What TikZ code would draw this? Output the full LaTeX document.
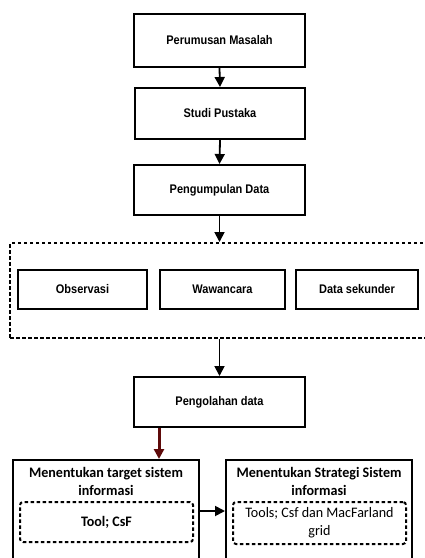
\documentclass[tikz,border=0pt]{standalone}
\usepackage{fontspec}
\usetikzlibrary{arrows.meta}
\newfontfamily\topfont[FakeStretch=0.88,BoldFont={Liberation Sans Bold}]{Liberation Sans}
\newfontfamily\calfont[FakeStretch=0.97]{Carlito}
\definecolor{darkred}{HTML}{5E0A0A}
\begin{document}
\begin{tikzpicture}[x=1pt,y=-1pt,
  box/.style={draw,line width=2pt,minimum width=#1,inner sep=0pt,
    font=\topfont\bfseries\fontsize{12.5}{14}\selectfont},
  bigbox/.style={draw,line width=2pt,minimum width=186pt,minimum height=110pt,inner sep=0pt},
  dbox/.style={draw,line width=2pt,dash pattern=on 3.5pt off 2.5pt,inner sep=0pt},
  inbox/.style={draw,line width=2pt,dash pattern=on 3.5pt off 2.5pt,rounded corners=3pt,
    minimum width=173pt,inner sep=0pt,align=center,font=\calfont\fontsize{14.5}{18}\selectfont},
  ttl/.style={align=center,inner sep=0pt,font=\calfont\bfseries\fontsize{14.5}{18}\selectfont},
  arr/.style={line width=1.8pt,-{Triangle[length=10pt,width=10pt]}},
  redarr/.style={line width=3pt,draw=darkred,-{Triangle[length=10pt,width=10pt]},color=darkred}]
\useasboundingbox (0,0) rectangle (425,558);
\fill[white] (0,0) rectangle (425,558);
\node[box=171pt,minimum height=53pt] (b1) at (219.5,40.5) {Perumusan Masalah};
\node[box=170pt,minimum height=51pt] (b2) at (220,113.5) {Studi Pustaka};
\node[box=171pt,minimum height=50pt] (b3) at (219.5,190) {Pengumpulan Data};
\node[dbox,minimum width=420pt,minimum height=95pt] (grp) at (220,290.5) {};
\node[box=129pt,minimum height=39pt] (obs) at (82.5,289.5) {Observasi};
\node[box=125pt,minimum height=39pt] (waw) at (222.5,289.5) {Wawancara};
\node[box=122pt,minimum height=39pt] (sek) at (357,289.5) {Data sekunder};
\node[box=171pt,minimum height=50pt] (olah) at (219.5,402) {Pengolahan data};
\node[bigbox] (lb) at (106,515) {};
\node[bigbox] (rb) at (319,515) {};
\node[ttl] (lt) at (106,481) {Menentukan target sistem\\informasi};
\node[ttl] (rt) at (319,481) {Menentukan Strategi Sistem\\informasi};
\node[inbox,minimum height=40pt,font=\calfont\bfseries\fontsize{14.5}{18}\selectfont] (li) at (106.5,522) {Tool; CsF};
\node[inbox,minimum height=42pt] (ri) at (319.5,523) {Tools; Csf dan MacFarland\\grid};
\coordinate (redx) at (159,0);
\coordinate (ay) at (0,511);
\draw[arr] (b1.south) -- (b2.north);
\draw[arr] (b2.south) -- (b3.north);
\draw[arr] (b3.south) -- (grp.north -| b3.south);
\draw[arr] (grp.south -| olah.north) -- (olah.north);
\draw[redarr] (olah.south -| redx) -- (lb.north -| redx);
\draw[arr] (lb.east |- ay) -- (rb.west |- ay);
\end{tikzpicture}
\end{document}
